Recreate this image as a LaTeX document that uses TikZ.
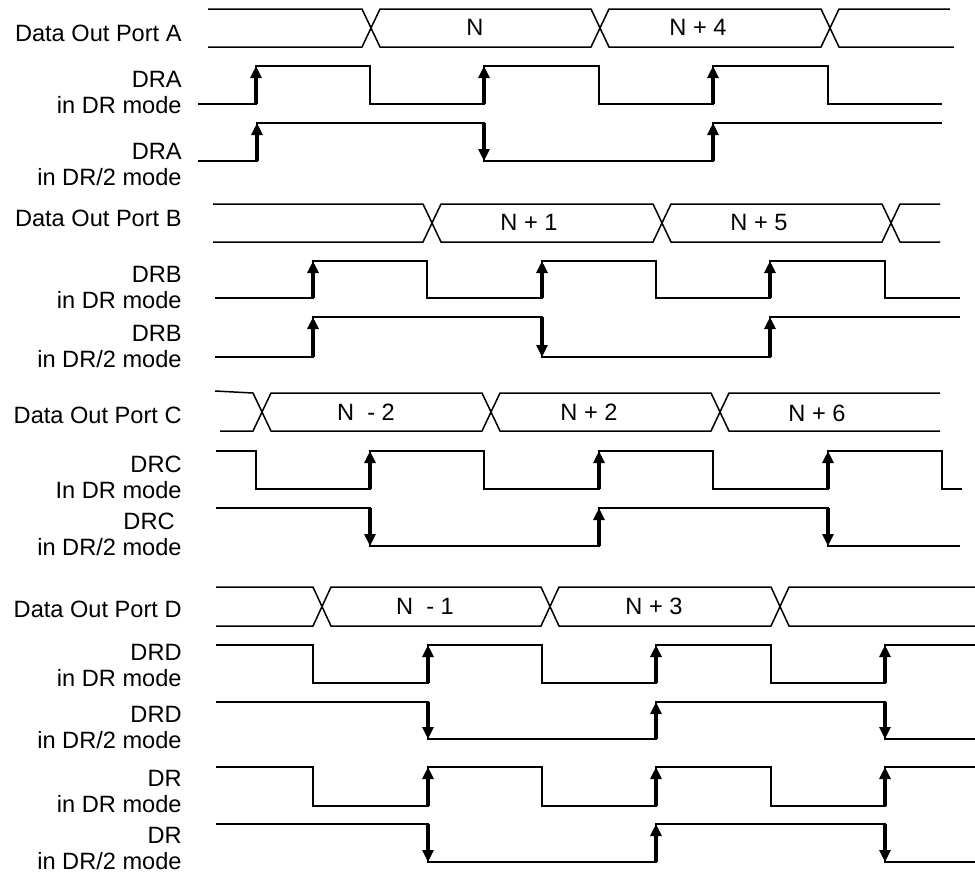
\documentclass[tikz,border=0pt]{standalone}
\usepackage{fontspec}
\setmainfont{Liberation Sans}
\usetikzlibrary{arrows.meta}

\begin{document}
\begin{tikzpicture}[
  x=0.5pt, y=-0.5pt,
  lbl/.style={anchor=base east, align=right, inner sep=0pt, font=\fontsize{11.8}{13}\selectfont},
  val/.style={anchor=base, inner sep=0pt, font=\fontsize{11.8}{13}\selectfont},
  sig/.style={line width=0.75pt, line join=miter},
  clk/.style={-{Triangle[length=6pt,width=5.5pt]}, line width=1.6pt}
]
\useasboundingbox (0,0) rectangle (975,875);

\node[lbl] (portA) at (182,41) {Data Out Port A};
\draw[sig] (208,9) -- (362,9) -- (380,47) -- (591,47) -- (609,9) -- (821,9) -- (839,47) -- (954,47);
\draw[sig] (208,47) -- (362,47) -- (380,9) -- (591,9) -- (609,47) -- (821,47) -- (839,9) -- (950,9);
\node[val] (valN) at (475,35) {N};
\node[val] (valN4) at (698,35) {N + 4};

\node[lbl] (draDR) at (182,113) {DRA\\in DR mode};
\draw[sig] (198,104) -| (256,66) -| (370,104) -| (484,66) -| (599,104) -| (713,66) -| (828,104) -- (942,104);
\draw[clk] (256,104) -- (256,66); \draw[clk] (484,104) -- (484,66); \draw[clk] (713,104) -- (713,66);

\node[lbl] (draHalf) at (182,185) {DRA\\in DR/2 mode};
\draw[sig] (198,161) -| (257,123) -| (484,161) -| (713,123) -- (942,123);
\draw[clk] (257,161) -- (257,123); \draw[clk] (484,123) -- (484,161); \draw[clk] (713,161) -- (713,123);

\node[lbl] (portB) at (182,226) {Data Out Port B};
\draw[sig] (213,204) -- (423,204) -- (441,242) -- (653,242) -- (671,204) -- (882,204) -- (900,242) -- (940,242);
\draw[sig] (213,242) -- (423,242) -- (441,204) -- (653,204) -- (671,242) -- (882,242) -- (900,204) -- (940,204);
\node[val] (valN1) at (529,230) {N + 1};
\node[val] (valN5) at (759,230) {N + 5};

\node[lbl] (drbDR) at (182,308) {DRB\\in DR mode};
\draw[sig] (215,298) -| (313,261) -| (427,298) -| (542,261) -| (656,298) -| (770,261) -| (885,298) -- (960,298);
\draw[clk] (313,298) -- (313,261); \draw[clk] (542,298) -- (542,261); \draw[clk] (770,298) -- (770,261);

\node[lbl] (drbHalf) at (182,367) {DRB\\in DR/2 mode};
\draw[sig] (215,357) -| (313,317) -| (542,357) -| (770,317) -- (960,317);
\draw[clk] (313,357) -- (313,317); \draw[clk] (542,317) -- (542,357); \draw[clk] (770,357) -- (770,317);

\node[lbl] (portC) at (182,423) {Data Out Port C};
\draw[sig] (215,391) -- (253,393) -- (271,431) -- (482,431) -- (500,393) -- (711,393) -- (729,431) -- (940,431);
\draw[sig] (220,431) -- (253,431) -- (271,393) -- (482,393) -- (500,431) -- (711,431) -- (729,393) -- (940,393);
\node[val] (valNm2) at (366,420) {N\ \ - 2};
\node[val] (valN2) at (589,420) {N + 2};
\node[val] (valN6) at (817,421) {N + 6};

\node[lbl] (drcDR) at (182,498) {DRC\\In DR mode};
\draw[sig] (216,451) -| (256,489) -| (370,451) -| (484,489) -| (599,451) -| (713,489) -| (828,451) -| (942,489) -- (962,489);
\draw[clk] (370,489) -- (370,451); \draw[clk] (599,489) -- (599,451); \draw[clk] (828,489) -- (828,451);

\node[lbl] (drcHalf) at (182,555) {DRC\kern3.5pt\\in DR/2 mode};
\draw[sig] (216,508) -| (370,546) -| (599,508) -| (828,546) -- (960,546);
\draw[clk] (370,508) -- (370,546); \draw[clk] (599,546) -- (599,508); \draw[clk] (828,508) -- (828,546);

\node[lbl] (portD) at (182,617) {Data Out Port D};
\draw[sig] (216,587) -- (313,587) -- (331,626) -- (541,626) -- (559,587) -- (771,587) -- (789,626) -- (975,626);
\draw[sig] (216,626) -- (313,626) -- (331,587) -- (541,587) -- (559,626) -- (771,626) -- (789,587) -- (975,587);
\node[val] (valNm1) at (425,614) {N\ \ - 1};
\node[val] (valN3) at (654,614) {N + 3};

\node[lbl] (drdDR) at (182,686) {DRD\\in DR mode};
\draw[sig] (216,645) -| (313,683) -| (428,645) -| (542,683) -| (656,645) -| (771,683) -| (885,645) -- (975,645);
\draw[clk] (428,683) -- (428,645); \draw[clk] (656,683) -- (656,645); \draw[clk] (885,683) -- (885,645);

\node[lbl] (drdHalf) at (182,748) {DRD\\in DR/2 mode};
\draw[sig] (216,702) -| (428,739) -| (656,702) -| (885,739) -- (975,739);
\draw[clk] (428,702) -- (428,739); \draw[clk] (656,739) -- (656,702); \draw[clk] (885,702) -- (885,739);

\node[lbl] (drDR) at (182,812) {DR\\in DR mode};
\draw[sig] (216,767) -| (313,806) -| (428,767) -| (542,806) -| (656,767) -| (771,806) -| (885,767) -- (975,767);
\draw[clk] (428,806) -- (428,767); \draw[clk] (656,806) -- (656,767); \draw[clk] (885,806) -- (885,767);

\node[lbl] (drHalf) at (182,869) {DR\\in DR/2 mode};
\draw[sig] (216,824) -| (428,862) -| (656,824) -| (885,862) -- (975,862);
\draw[clk] (428,824) -- (428,862); \draw[clk] (656,862) -- (656,824); \draw[clk] (885,824) -- (885,862);
\end{tikzpicture}
\end{document}
